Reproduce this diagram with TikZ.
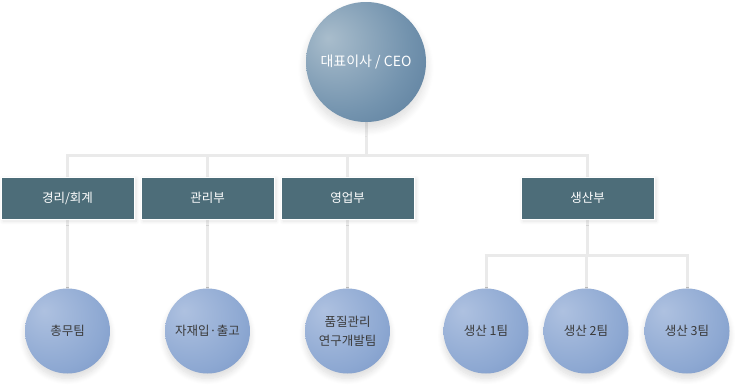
\documentclass[tikz,border=0pt]{standalone}
\usepackage{fontspec}
\setmainfont{Noto Sans CJK KR}
\usetikzlibrary{shadows.blur}
\definecolor{ceoL}{HTML}{A9BDCC}
\definecolor{ceoM}{HTML}{7393AE}
\definecolor{ceoD}{HTML}{3B6186}
\definecolor{teamL}{HTML}{AEC1E0}
\definecolor{teamM}{HTML}{8DA8D2}
\definecolor{teamD}{HTML}{6181B8}
\definecolor{deptC}{HTML}{4D6D79}
\definecolor{lineC}{HTML}{EAEAEA}
\definecolor{txtC}{HTML}{3A3A3A}
\pgfdeclareradialshading{ceoball}{\pgfpoint{-16bp}{10bp}}{color(0bp)=(ceoL); color(28bp)=(ceoM); color(64bp)=(ceoD); color(80bp)=(ceoD)}
\pgfdeclareradialshading{teamball}{\pgfpoint{-14bp}{12bp}}{color(0bp)=(teamL); color(30bp)=(teamM); color(64bp)=(teamD); color(80bp)=(teamD)}
\pgfdeclarelayer{bg}
\pgfsetlayers{bg,main}
\tikzset{
  conn/.style={draw=lineC, line width=3pt},
  ceostyle/.style={circle, minimum size=120pt, inner sep=0pt, shading=ceoball, text=white, font=\fontsize{14}{16}\selectfont,
    blur shadow={shadow xshift=0pt, shadow yshift=-6pt, shadow blur radius=8pt, shadow blur steps=12, shadow opacity=14}},
  dept/.style={rectangle, minimum width=133pt, minimum height=42pt, inner sep=0pt, fill=deptC, draw=white, line width=1pt, text=white, font=\fontsize{12.5}{15}\selectfont,
    blur shadow={shadow xshift=2pt, shadow yshift=-2pt, shadow blur radius=4pt, shadow blur steps=8, shadow opacity=12}},
  team/.style={circle, minimum size=85pt, inner sep=0pt, shading=teamball, text=txtC, align=center, font=\fontsize{12.5}{19}\selectfont,
    blur shadow={shadow xshift=0pt, shadow yshift=-5pt, shadow blur radius=6pt, shadow blur steps=10, shadow opacity=14}},
}
\begin{document}
\begin{tikzpicture}[x=1pt, y=-1pt]
\useasboundingbox (0,0) rectangle (735,389);
\node[ceostyle] (ceo) at (366,62) {대표이사 / CEO};
\node[dept] (d1) at (67.5,198) {경리/회계};
\node[dept] (d2) at (207.5,198) {관리부};
\node[dept] (d3) at (347.5,198) {영업부};
\node[dept] (d4) at (587.5,198) {생산부};
\node[team] (t1) at (67.5,331) {총무팀};
\node[team] (t2) at (207.5,331) {자재입·출고};
\node[team] (t3) at (347.5,331) {품질관리\\연구개발팀};
\node[team] (p1) at (486,331) {생산 1팀};
\node[team] (p2) at (586,331) {생산 2팀};
\node[team] (p3) at (687,331) {생산 3팀};
\coordinate (bus) at (0,155);
\coordinate (bus2) at (0,255);
\begin{pgfonlayer}{bg}
\draw[conn] (ceo.center) -- (ceo |- bus);
\draw[conn] ([xshift=-1.5pt]d1 |- bus) -- ([xshift=1.5pt]d4 |- bus);
\draw[conn] (d1 |- bus) -- (t1.center);
\draw[conn] (d2 |- bus) -- (t2.center);
\draw[conn] (d3 |- bus) -- (t3.center);
\draw[conn] (d4 |- bus) -- (d4 |- bus2);
\draw[conn] ([xshift=-1.5pt]p1 |- bus2) -- ([xshift=1.5pt]p3 |- bus2);
\draw[conn] (p1 |- bus2) -- (p1.center);
\draw[conn] (p2 |- bus2) -- (p2.center);
\draw[conn] (p3 |- bus2) -- (p3.center);
\end{pgfonlayer}
\end{tikzpicture}
\end{document}
